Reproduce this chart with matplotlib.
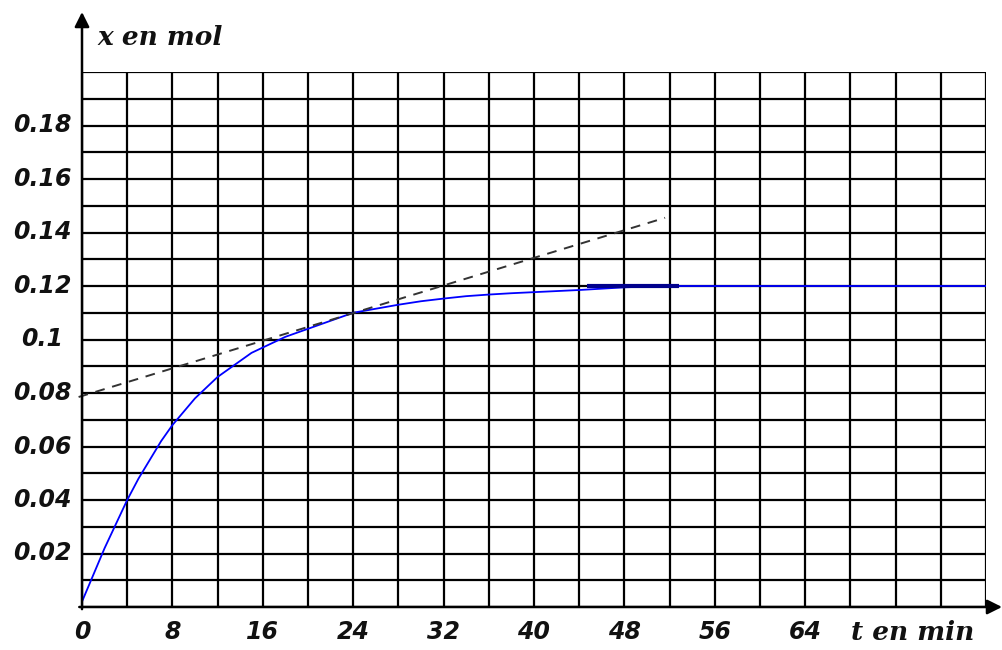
import matplotlib.pyplot as plt
from matplotlib.ticker import MultipleLocator

# values
t_min = [0, 1, 2, 3, 4, 5, 6, 7, 8, 9, 10, 11, 12, 13, 14, 15, 16,
         18, 20, 22, 24, 26, 28, 30, 32, 34, 36, 38, 40, 42, 44, 46,
         48, 50, 52, 56, 60, 64, 68, 72, 76, 80]
x_mol = [0.002, 0.012, 0.022, 0.031, 0.040, 0.048, 0.055, 0.062, 0.068,
         0.073, 0.078, 0.082, 0.086, 0.089, 0.092, 0.095, 0.097,
         0.101, 0.104, 0.107, 0.110, 0.1115, 0.113, 0.1143, 0.1153,
         0.1162, 0.1168, 0.1173, 0.1177, 0.1181, 0.1185, 0.119,
         0.1195, 0.1198, 0.12, 0.12, 0.12, 0.12, 0.12, 0.12, 0.12, 0.12]

# tangent at t = 24 min
tangent_t = [-0.3, 51.6]
tangent_x = [0.0785, 0.1455]

# short thick segment drawn over the plateau
plateau_t = [44.7, 52.8]
plateau_x = [0.12, 0.12]

xtick_vals = [0, 8, 16, 24, 32, 40, 48, 56, 64]
ytick_vals = [0.02, 0.04, 0.06, 0.08, 0.10, 0.12, 0.14, 0.16, 0.18]
ytick_labels = ['0.02', '0.04', '0.06', '0.08', '0.1', '0.12', '0.14', '0.16', '0.18']

W, H = 1003, 650
fig = plt.figure(figsize=(W / 100, H / 100), dpi=100)
ax = fig.add_axes([82 / W, (H - 607) / H, (986 - 82) / W, (607 - 72) / H])
ax.set_xlim(0, 80)
ax.set_ylim(0, 0.20)

# grid every 4 min and every 0.01 mol
ax.xaxis.set_minor_locator(MultipleLocator(4))
ax.yaxis.set_minor_locator(MultipleLocator(0.01))
ax.set_xticks([])
ax.set_yticks([])
ax.grid(True, which='minor', color='black', linewidth=1.6)
ax.tick_params(which='both', length=0)
for s in ax.spines.values():
    s.set_visible(False)
ax.set_axisbelow(True)

ax.plot(t_min, x_mol, color='#0000ff', linewidth=1.3, zorder=3)
ax.plot(plateau_t, plateau_x, color='#00008c', linewidth=3, zorder=4,
        solid_capstyle='butt')
ax.plot(tangent_t, tangent_x, color='#333333', linewidth=1.4,
        dashes=(5, 4), zorder=3, clip_on=False)

# axes with arrows
ax.annotate('', xy=(0, (607 - 12) / (607 - 72)), xytext=(0, -0.004),
            xycoords='axes fraction',
            arrowprops=dict(arrowstyle='-|>', color='black', lw=1.8,
                            mutation_scale=22, shrinkA=0, shrinkB=0))
ax.annotate('', xy=((1002 - 82) / (986 - 82), 0), xytext=(-0.003, 0),
            xycoords='axes fraction',
            arrowprops=dict(arrowstyle='-|>', color='black', lw=1.8,
                            mutation_scale=22, shrinkA=0, shrinkB=0))

tick_font = dict(family='DejaVu Sans', fontsize=17, fontweight='bold',
                 fontstyle='italic', color='#111111')
for v in xtick_vals:
    ax.text(v, -0.0095, str(v), ha='center', va='center', **tick_font)
ytr = ax.get_yaxis_transform()
for v, lab in zip(ytick_vals, ytick_labels):
    ax.text(-0.044, v, lab, transform=ytr, ha='center', va='center', **tick_font)

label_font = dict(family='DejaVu Serif', fontsize=19, fontweight='bold',
                  fontstyle='italic', color='#111111')
fig.text(97 / W, 1 - 45 / H, 'x en mol', ha='left', va='baseline', **label_font)
fig.text(913 / W, 1 - 640 / H, 't en min', ha='center', va='baseline', **label_font)

fig.savefig('out.png', dpi=100)
